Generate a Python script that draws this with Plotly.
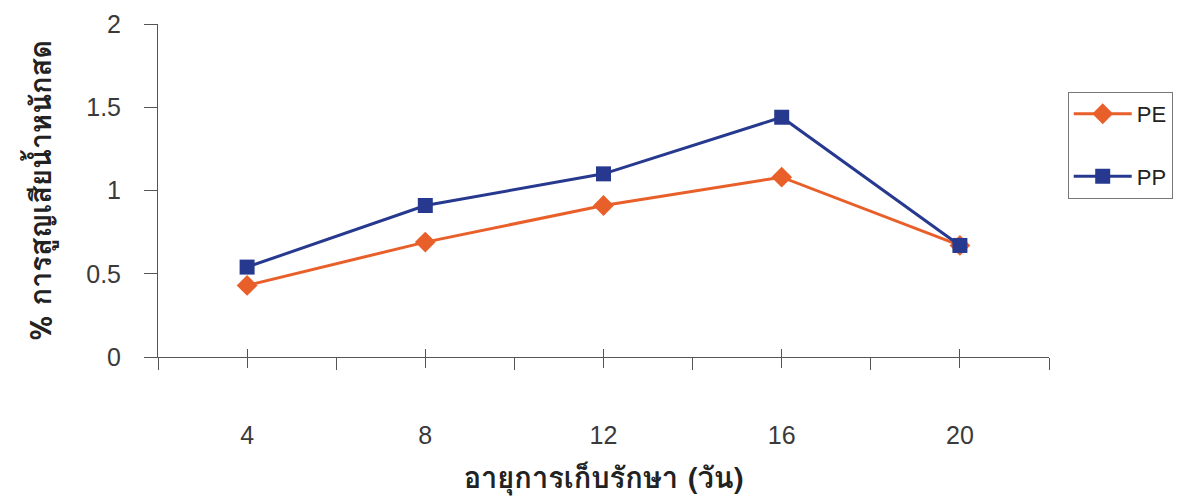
import plotly.graph_objects as go

# Storage days and weight loss (%) for each packaging film
days = [4, 8, 12, 16, 20]
pe_loss = [0.43, 0.69, 0.91, 1.08, 0.67]
pp_loss = [0.54, 0.91, 1.10, 1.44, 0.67]

x_ticks = [4, 8, 12, 16, 20]
x_minor = [2, 6, 10, 14, 18, 22]
y_ticks = [0, 0.5, 1, 1.5, 2]
y_labels = ["0", "0.5", "1", "1.5", "2"]

ORANGE = "#E95F2A"
BLUE = "#27398F"
AXIS = "#555555"
TEXT = "#3a3a3a"
THAI = "Tahoma, Loma, Garuda, Noto Sans Thai Looped, Noto Sans Thai, sans-serif"
LATIN = "Liberation Sans, Arial, sans-serif"

fig = go.Figure()
fig.add_trace(go.Scatter(
    x=days, y=pe_loss, name="PE", mode="lines+markers",
    line=dict(color=ORANGE, width=3),
    marker=dict(symbol="diamond", size=16, color=ORANGE),
    legendgroup="pe",
))
fig.add_trace(go.Scatter(
    x=days, y=pp_loss, name="PP", mode="lines+markers",
    line=dict(color=BLUE, width=3),
    marker=dict(symbol="square", size=15, color=BLUE),
    legendgroup="pp",
))
# empty trace that carries the overlay axis used for the upper half of crossing ticks
fig.add_trace(go.Scatter(x=[], y=[], xaxis="x2", showlegend=False, hoverinfo="skip"))

fig.update_layout(
    width=1185, height=501,
    margin=dict(l=158, r=136, t=24, b=144, autoexpand=False),
    paper_bgcolor="white", plot_bgcolor="white",
    font=dict(family=LATIN, color=TEXT),
    showlegend=True,
    legend=dict(
        x=1.021, y=0.796, xanchor="left", yanchor="top",
        bordercolor="#777777", borderwidth=1, bgcolor="white",
        font=dict(size=22, family=LATIN, color="#222222"),
        tracegroupgap=31, itemwidth=58,
    ),
    xaxis=dict(
        range=[2, 22], showgrid=False, zeroline=False,
        showline=True, linecolor=AXIS, linewidth=1, automargin=True,
        tickmode="array", tickvals=x_ticks, ticktext=[str(v) for v in x_ticks],
        ticks="outside", ticklen=10, tickcolor=AXIS, tickwidth=1,
        ticklabelstandoff=46,
        tickfont=dict(size=25, family=LATIN, color=TEXT),
        minor=dict(tickmode="array", tickvals=x_minor, ticks="outside",
                   ticklen=12, tickcolor=AXIS, tickwidth=1, showgrid=False),
        title=dict(text="<b>อายุการเก็บรักษา (วัน)</b>",
                   font=dict(size=29, family=THAI, color="#222222"), standoff=31),
    ),
    xaxis2=dict(
        range=[2, 22], overlaying="x", anchor="y", side="bottom",
        showgrid=False, zeroline=False, showline=False,
        tickmode="array", tickvals=x_ticks, ticks="inside", ticklen=8,
        tickcolor=AXIS, tickwidth=1, showticklabels=False,
    ),
    yaxis=dict(
        range=[0, 2], showgrid=False, zeroline=False,
        showline=True, linecolor=AXIS, linewidth=1,
        tickmode="array", tickvals=y_ticks, ticktext=y_labels,
        ticks="outside", ticklen=13, tickcolor=AXIS, tickwidth=1,
        ticklabelstandoff=18,
        tickfont=dict(size=25, family=LATIN, color=TEXT),
        title=dict(text="<b>% การสูญเสียน้ำหนักสด</b>",
                   font=dict(size=29, family=THAI, color="#222222"), standoff=26),
    ),
)

fig.write_html("out.html")
